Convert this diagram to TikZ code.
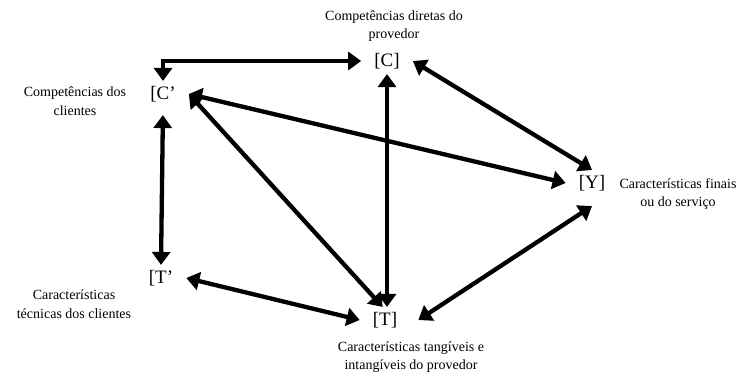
\documentclass[tikz,border=0pt]{standalone}
\usepackage{fontspec}
\setmainfont{Liberation Serif}
\usetikzlibrary{arrows.meta,calc}

\begin{document}
\begin{tikzpicture}[x=1pt, y=-1pt,
  var/.style={font=\fontsize{19}{22}\selectfont, inner xsep=13pt, inner ysep=5pt},
  lbl/.style={font=\fontsize{14}{18.5}\selectfont, align=center},
  link/.style={line width=4.3pt, {Triangle[length=13pt,width=18pt]}-{Triangle[length=13pt,width=18pt]}}]

    \useasboundingbox (0,0) rectangle (743,376);

    % Variables
    \node[var] (C)  at (387,61)  {[C]};
    \node[var] (Cp) at (163,94)  {[C’};
    \node[var] (Y)  at (592,183) {[Y]};
    \node[var] (Tp) at (161,278) {[T’};
    \node[var] (T)  at (385,320) {[T]};

    % Descriptions
    \node[lbl] (lC)  at (394,26)  {Competências diretas do\\provedor};
    \node[lbl] (lCp) at (75,101)  {Competências dos\\clientes};
    \node[lbl] (lY)  at (678,194) {Características finais\\ou do serviço};
    \node[lbl] (lTp) at (74,304)  {Características\\técnicas dos clientes};
    \node[lbl] (lT)  at (411,357) {Características tangíveis e\\intangíveis do provedor};

    % Links
    \draw[link] (C.west) -| (Cp.north);
    \draw[link, shorten <=8pt] (Cp.south) -- (Tp.north);
    \draw[link] (Tp.east) -- (T.west);
    \draw[link] (C.south) -- (C.south |- T.north);
    \draw[link] (Cp.east) -- (T.100);
    \draw[link] (Cp.east) -- (Y.west);
    \draw[link] (C.east) -- (Y.north);
    \draw[link] ([xshift=8pt]T.east) -- ([yshift=-10pt]Y.south);

\end{tikzpicture}
\end{document}
